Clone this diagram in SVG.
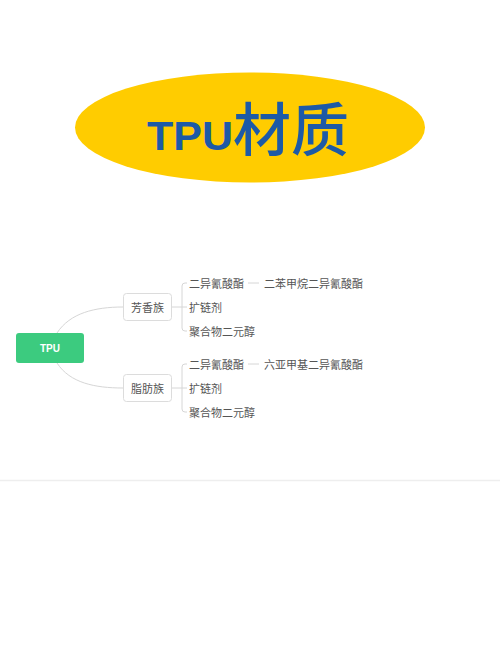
<svg xmlns="http://www.w3.org/2000/svg" width="500" height="652" viewBox="0 0 500 652">
<style>
.t{font-family:"Noto Sans CJK SC","Noto Sans",sans-serif;font-size:11px;fill:#555;dominant-baseline:central}
.box{fill:#fff;stroke:#dcdcdc;stroke-width:1}
.ln{fill:none;stroke:#d6d6d6;stroke-width:1}
</style>
<rect width="500" height="652" fill="#fff"/>
<g id="title">
<ellipse cx="250" cy="127.5" rx="175" ry="55" fill="#FFCC00"/>
<text x="147" y="150" font-family="'Liberation Sans',Arial,sans-serif" font-weight="900" font-size="40" fill="#1D5AA6" textLength="86" lengthAdjust="spacingAndGlyphs">TPU</text>
<text x="233" y="151" font-family="'Noto Sans CJK SC',sans-serif" font-weight="500" font-size="58" fill="#1D5AA6">材质</text>
</g>
<g id="connectors">
<path class="ln" d="M57 333 C70 313 95 307 123 307"/>
<path class="ln" d="M57 363 C70 383 95 388 123 388"/>
<path class="ln" d="M171 307 H187 M187 283 H185 Q182 283 182 286 V328 Q182 331 185 331 H187"/>
<path class="ln" d="M171 388 H187 M187 364 H185 Q182 364 182 367 V409 Q182 412 185 412 H187"/>
<path class="ln" d="M248 283 H259 M248 364 H259"/>
<line x1="0" y1="480.5" x2="500" y2="480.5" stroke="#eeeeee" stroke-width="1.5"/>
</g>
<g id="root">
<rect x="16" y="333" width="68" height="30" rx="3" fill="#3CCB7F"/>
<text x="50" y="348" text-anchor="middle" font-family="'Liberation Sans',Arial,sans-serif" font-weight="bold" font-size="10" fill="#fff" dominant-baseline="central">TPU</text>
</g>
<g id="aromatic">
<rect class="box" x="123.5" y="293.5" width="48" height="27" rx="3"/>
<text class="t" x="147.5" y="307" text-anchor="middle" font-size="12">芳香族</text>
</g>
<g id="aliphatic">
<rect class="box" x="123.5" y="374.5" width="48" height="27" rx="3"/>
<text class="t" x="147.5" y="388" text-anchor="middle" font-size="12">脂肪族</text>
</g>
<g id="a1"><text class="t" x="189" y="283">二异氰酸酯</text></g>
<g id="a1b"><text class="t" x="264" y="283">二苯甲烷二异氰酸酯</text></g>
<g id="a2"><text class="t" x="189" y="307">扩链剂</text></g>
<g id="a3"><text class="t" x="189" y="331">聚合物二元醇</text></g>
<g id="b1"><text class="t" x="189" y="364">二异氰酸酯</text></g>
<g id="b1b"><text class="t" x="264" y="364">六亚甲基二异氰酸酯</text></g>
<g id="b2"><text class="t" x="189" y="388">扩链剂</text></g>
<g id="b3"><text class="t" x="189" y="412">聚合物二元醇</text></g>
</svg>
